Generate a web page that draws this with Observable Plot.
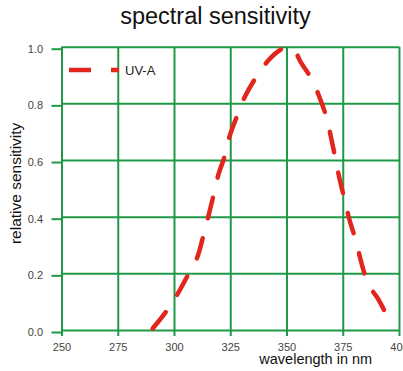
<!DOCTYPE html>
<html>
<head>
<meta charset="utf-8">
<script src="https://cdn.jsdelivr.net/npm/d3@7"></script>
<script src="https://cdn.jsdelivr.net/npm/@observablehq/plot@0.6"></script>
<style>
  html, body { margin: 0; padding: 0; background: #fff; }
  #wrap { position: relative; width: 403px; height: 371px; overflow: hidden; font-family: "Liberation Sans", Arial, sans-serif; }
  #title { position: absolute; left: 14px; width: 403px; top: 5px; text-align: center; font-size: 23.5px; line-height: 23.5px; color: #111; }
  #legend { position: absolute; left: 0; top: 0; }
</style>
</head>
<body>
<div id="wrap">
  <div id="chart"></div>
  <div id="title">spectral sensitivity</div>
  <svg id="legend" width="170" height="90">
    <line x1="69" x2="119" y1="70" y2="70" stroke="#e0261d" stroke-width="4.5" stroke-dasharray="22,20"></line>
    <text x="125" y="75" font-size="13" fill="#222" font-family="Liberation Sans, Arial, sans-serif">UV-A</text>
  </svg>
</div>
<script>
const title = "spectral sensitivity";
const seriesName = "UV-A";
const xLabel = "wavelength in nm";
const yLabel = "relative sensitivity";
const xTicks = [250, 275, 300, 325, 350, 375, 400];
const yTicks = [0, 0.2, 0.4, 0.6, 0.8, 1.0];
const wavelength = [290.3, 296, 301, 305.4, 309.9, 313, 317, 319.5, 322.3, 324.5, 327.6, 331.2, 335.7, 341, 345.5, 350, 353.5, 356.1, 361, 364.6, 367.7, 369.6, 371.6, 373.5, 375.7, 377.8, 380.6, 382.9, 385.6, 388, 390.4, 394.8];
const sensitivity = [0.007, 0.064, 0.124, 0.187, 0.254, 0.34, 0.466, 0.55, 0.615, 0.686, 0.753, 0.824, 0.887, 0.947, 0.982, 1.0, 0.985, 0.947, 0.887, 0.82, 0.749, 0.68, 0.604, 0.53, 0.459, 0.39, 0.318, 0.244, 0.175, 0.14, 0.113, 0.046];

const data = wavelength.map((w, i) => ({w, s: sensitivity[i]}));
const green = "#1e9a46";
const red = "#e0261d";
const font = "Liberation Sans, Arial, sans-serif";

const chart = Plot.plot({
  width: 403,
  height: 371,
  marginLeft: 61.5,
  marginRight: 4,
  marginTop: 46.7,
  marginBottom: 41,
  style: {fontFamily: font, background: "white", overflow: "visible"},
  x: {domain: [250, 400]},
  y: {domain: [0, 1]},
  marks: [
    Plot.gridX(xTicks, {stroke: green, strokeOpacity: 1, strokeWidth: 2}),
    Plot.gridY(yTicks, {stroke: green, strokeOpacity: 1, strokeWidth: 2}),
    Plot.axisX(xTicks, {tickSize: 6, tickPadding: 6.5, stroke: green, strokeWidth: 2, fill: "#444", fontSize: 11, tickFormat: d => String(d), label: null}),
    Plot.axisY(yTicks, {tickSize: 10, tickPadding: 9, stroke: green, strokeWidth: 2, fill: "#444", fontSize: 11, dy: 2, tickFormat: d3.format(".1f"), label: null}),
    Plot.line(data, {x: "w", y: "s", stroke: red, strokeWidth: 4.5, strokeDasharray: "21,20.6", curve: "catmull-rom"}),
    Plot.text([xLabel], {frameAnchor: "bottom", text: d => d, textAnchor: "middle", lineAnchor: "middle", dx: 85, dy: 28.5, fontSize: 14.5, fill: "#111"}),
    Plot.text([yLabel], {frameAnchor: "left", text: d => d, textAnchor: "middle", lineAnchor: "middle", rotate: -90, dx: -46, dy: -5.5, fontSize: 15.5, fill: "#111"})
  ]
});
document.getElementById("chart").appendChild(chart);
</script>
</body>
</html>
